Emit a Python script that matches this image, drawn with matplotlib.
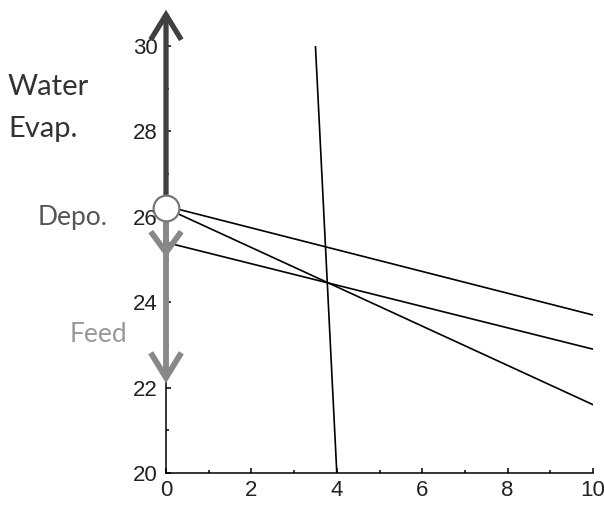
import matplotlib.pyplot as plt
from matplotlib.patches import FancyArrowPatch
from matplotlib.ticker import MultipleLocator

# operating lines: (x0, x1), (y0, y1)
steep_x = [3.5, 4.0]
steep_y = [30.0, 20.0]
line_x = [0, 10]
upper_y = [26.25, 23.7]
middle_y = [25.4, 22.9]
lower_y = [26.2, 21.6]

start = (0, 26.2)      # open circle
evap_top = 30.85       # dark arrow tip
depo_tip = 25.05       # first grey arrow tip
feed_tip = 22.1        # second grey arrow tip

xticks = [0, 2, 4, 6, 8, 10]
yticks = [20, 22, 24, 26, 28, 30]

fig = plt.figure(figsize=(6.04, 5.07), dpi=100)
ax = fig.add_axes([166/604, 34/507, 427/604, 427/507])

ax.plot(steep_x, steep_y, color="black", lw=1.2, zorder=2)
ax.plot(line_x, upper_y, color="black", lw=1.2, zorder=2)
ax.plot(line_x, middle_y, color="black", lw=1.2, zorder=2)
ax.plot(line_x, lower_y, color="black", lw=1.2, zorder=2)


def arrow(y0, y1, color, lw, hl, hw):
    a = FancyArrowPatch((0, y0), (0, y1),
                        arrowstyle="->,head_length=%g,head_width=%g" % (hl, hw),
                        mutation_scale=1, color=color, lw=lw,
                        shrinkA=0, shrinkB=0, clip_on=False, zorder=4,
                        joinstyle="miter", capstyle="butt")
    ax.add_patch(a)


arrow(start[1], evap_top, "#404040", 3.8, 18, 11)
arrow(start[1], feed_tip, "#888888", 4.2, 18, 11)
arrow(start[1], depo_tip, "#888888", 4.2, 15, 11)

ax.plot(*start, "o", ms=18.5, mfc="white", mec="#777777", mew=1.6,
        zorder=5, clip_on=False)

ax.set_xlim(0, 10)
ax.set_ylim(20, 30)
ax.set_xticks(xticks)
ax.set_yticks(yticks)
ax.xaxis.set_minor_locator(MultipleLocator(1))
ax.yaxis.set_minor_locator(MultipleLocator(1))
ax.tick_params(which="both", direction="in", width=1.1, colors="black",
               labelsize=16)
ax.tick_params(which="major", length=3.5)
ax.tick_params(which="minor", length=2)
ax.tick_params(axis="y", pad=6)
ax.tick_params(axis="x", pad=5)
for lab in ax.get_xticklabels() + ax.get_yticklabels():
    lab.set_fontfamily("Liberation Sans")
    lab.set_color("#222222")
for side in ["top", "right"]:
    ax.spines[side].set_visible(False)
for side in ["left", "bottom"]:
    ax.spines[side].set_linewidth(1.1)
ax.patch.set_alpha(0)

H = 507.0
fig.text(8/604, 1 - 95/H, "Water", fontsize=21, family="Lato",
         color="#333333", va="baseline")
fig.text(8/604, 1 - 137/H, "Evap.", fontsize=21, family="Lato",
         color="#333333", va="baseline")
fig.text(38/604, 1 - 225/H, "Depo.", fontsize=19, family="Lato",
         color="#555555", va="baseline")
fig.text(70/604, 1 - 342/H, "Feed", fontsize=19, family="Lato",
         color="#999999", va="baseline")

fig.savefig("out.png", dpi=100)
